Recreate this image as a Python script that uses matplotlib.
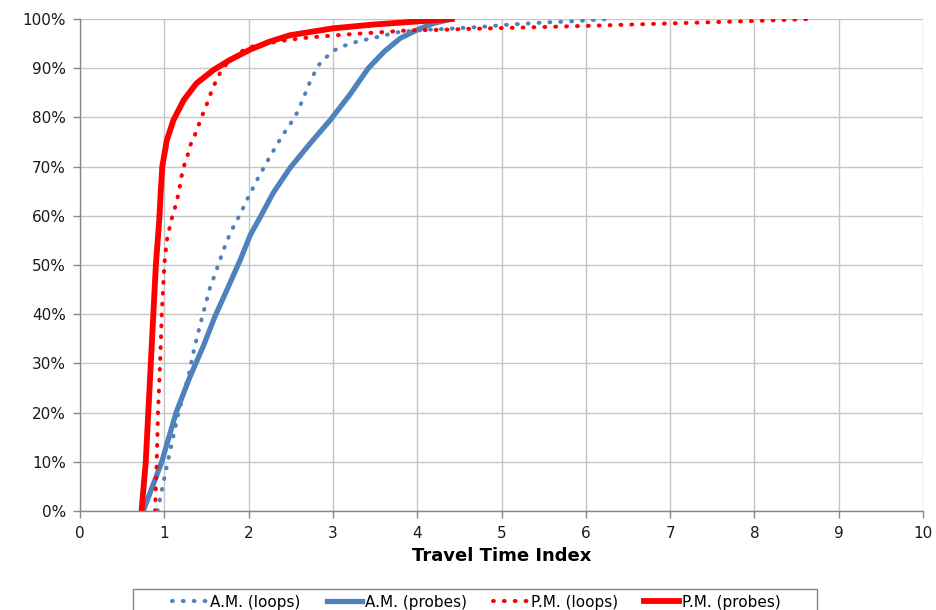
import matplotlib
matplotlib.use("Agg")
import matplotlib.pyplot as plt
from matplotlib.patches import Rectangle
from matplotlib.ticker import FuncFormatter, MultipleLocator

# Cumulative share of trips (%) against Travel Time Index
am_loops_tti = [0.92, 1.04, 1.17, 1.285, 1.36, 1.45, 1.54, 1.62, 1.70, 1.79, 1.89,
                2.00, 2.11, 2.22, 2.34, 2.47, 2.54, 2.59, 2.68, 2.73, 2.78, 2.84,
                2.92, 3.00, 3.11, 3.22, 3.34, 3.46, 3.58, 3.68, 3.80, 4.10, 4.45,
                4.76, 5.12, 5.52, 5.81, 6.17, 6.29]
am_loops_pct = [0, 10, 20, 27.3, 33.4, 39.5, 45.3, 49.0, 53.0, 56.8, 60.0,
                63.9, 67.6, 71.0, 74.6, 78.1, 79.8, 81.5, 85.2, 87.3, 89.0, 90.8,
                92.2, 93.5, 94.4, 95.1, 95.6, 96.1, 96.5, 97.0, 97.4, 97.8, 98.1,
                98.4, 98.9, 99.3, 99.5, 99.9, 100]

am_probes_tti = [0.75, 0.97, 1.14, 1.305, 1.46, 1.60, 1.76, 1.90, 2.02, 2.14, 2.29,
                 2.49, 2.73, 2.97, 3.20, 3.42, 3.61, 3.80, 4.00, 4.19, 4.41]
am_probes_pct = [0, 10, 20, 27.3, 33.4, 39.5, 45.6, 51.0, 56.1, 59.8, 64.6,
                 69.7, 74.7, 79.5, 84.6, 90.0, 93.4, 96.1, 97.8, 99.1, 100]

pm_loops_tti = [0.89, 0.91, 0.925, 0.95, 0.97, 1.00, 1.03, 1.08, 1.11, 1.14, 1.17,
                1.19, 1.21, 1.24, 1.28, 1.31, 1.36, 1.40, 1.44, 1.49, 1.53, 1.57,
                1.62, 1.67, 1.75, 1.94, 2.06, 2.37, 2.63, 2.97, 3.20, 3.56, 3.91,
                4.27, 4.63, 5.10, 6.00, 7.00, 8.00, 8.66]
pm_loops_pct = [0, 10, 20, 30, 40, 50, 55, 59.0, 60.6, 62.5, 64.6,
                66.6, 68.5, 70.5, 72.5, 74.4, 76.3, 78.1, 80.0, 82.0, 83.9, 85.8,
                87.6, 89.3, 91.1, 93.7, 94.5, 95.5, 96.1, 96.6, 96.9, 97.3, 97.7,
                97.8, 98.0, 98.2, 98.6, 99.1, 99.6, 100]

pm_probes_tti = [0.73, 0.78, 0.81, 0.84, 0.87, 0.90, 0.94, 0.957, 0.976, 1.03, 1.11,
                 1.23, 1.38, 1.58, 1.78, 2.02, 2.25, 2.49, 3.00, 3.50, 4.00, 4.41]
pm_probes_pct = [0, 10, 20, 30, 40, 50, 59.1, 64.6, 70.0, 75.4, 79.5,
                 83.5, 86.9, 89.6, 91.7, 93.8, 95.4, 96.7, 98.1, 98.9, 99.5, 100]

series_labels = ["A.M. (loops)", "A.M. (probes)", "P.M. (loops)", "P.M. (probes)"]
x_label = "Travel Time Index"

BLUE = "#4F81BD"
RED = "#FF0000"
GRID = "#C6C6C6"
AXIS = "#878787"

plt.rcParams["font.family"] = ["DejaVu Sans"]

W, H = 937, 610
fig = plt.figure(figsize=(W / 100, H / 100), dpi=100)
ax = fig.add_axes([80 / W, 1 - 511 / H, 843 / W, 492 / H])

# round dots about 4 px across, roughly 11 px apart
dot_style = dict(linestyle=(0, (0.2, 2.5)), dash_capstyle="round", linewidth=2.9)

ax.plot(am_loops_tti, am_loops_pct, color=BLUE, label=series_labels[0], **dot_style)
ax.plot(am_probes_tti, am_probes_pct, color=BLUE, linewidth=3.8,
        solid_joinstyle="round", label=series_labels[1])
ax.plot(pm_loops_tti, pm_loops_pct, color=RED, label=series_labels[2], **dot_style)
ax.plot(pm_probes_tti, pm_probes_pct, color=RED, linewidth=4.2,
        solid_joinstyle="round", label=series_labels[3])

ax.set_xlim(0, 10)
ax.set_ylim(0, 100)
ax.xaxis.set_major_locator(MultipleLocator(1))
ax.yaxis.set_major_locator(MultipleLocator(10))
ax.yaxis.set_major_formatter(FuncFormatter(lambda v, p: f"{v:.0f}%"))

ax.grid(True, color=GRID, linewidth=1.0)
ax.set_axisbelow(True)
for side in ("top", "right"):
    ax.spines[side].set_visible(False)
for side in ("left", "bottom"):
    ax.spines[side].set_color(AXIS)
    ax.spines[side].set_linewidth(1.0)

ax.tick_params(axis="both", direction="out", length=5, width=1, color=AXIS,
               labelsize=11, labelcolor="#1a1a1a")
ax.tick_params(axis="y", pad=5)
ax.tick_params(axis="x", pad=6)

ax.set_xlabel(x_label, fontsize=13, fontweight="bold", labelpad=4)

# Legend row along the bottom edge, with its own box that runs off the figure
leg = fig.legend(loc="center", bbox_to_anchor=(476.5 / W, 1 - 602 / H),
                 ncol=4, fontsize=11, frameon=False,
                 handlelength=2.3, handletextpad=0.2, columnspacing=1.7,
                 borderpad=0, borderaxespad=0)
fig.patches.append(Rectangle((133 / W, -0.05), (817 - 133) / W, 0.05 + (H - 589) / H,
                             transform=fig.transFigure, facecolor="none",
                             edgecolor=AXIS, linewidth=1.0))

fig.savefig("out.png", dpi=100)
